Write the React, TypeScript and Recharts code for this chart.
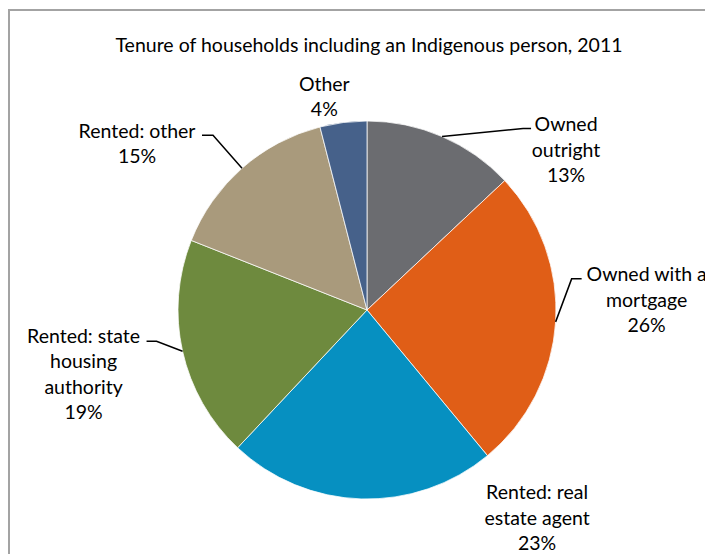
import { PieChart, Pie, Cell } from "recharts";

const categories = [
    "Owned outright",
    "Owned with a mortgage",
    "Rented: real estate agent",
    "Rented: state housing authority",
    "Rented: other",
    "Other",
];
const shares = [13, 26, 23, 19, 15, 4];
const colors = ["#6b6c70", "#e05e17", "#0690c1", "#6e8a3e", "#a99a7c", "#46618a"];

// how each category name wraps in its label
const wrapped = [
    ["Owned", "outright"],
    ["Owned with a", "mortgage"],
    ["Rented: real", "estate agent"],
    ["Rented: state", "housing", "authority"],
    ["Rented: other"],
    ["Other"],
];

// label placement relative to the slice edge point: leader elbow, leader end, text centre
const labelPos = [
    { line: [[81, -8], [89, -8]], tx: 124, ty: -13 },
    { line: [[16, -43], [26, -43]], tx: 91, ty: -48 },
    { line: null, tx: 176, ty: -7 },
    { line: [[-26, -10], [-36, -10]], tx: -99, ty: -16 },
    { line: [[-29, -33], [-40, -33]], tx: -105, ty: -38 },
    { line: null, tx: -19, ty: -39 },
];

const data = categories.map((name, i) => ({ name, value: shares[i] }));

const FONT = "Lato, 'Open Sans', sans-serif";
const FONT_SIZE = 19.5;
const RAD = Math.PI / 180;
const LINE_H = 25.5;

function renderLabel(props: any) {
    const { cx, cy, midAngle, outerRadius, index, percent } = props;
    const ex = cx + outerRadius * Math.cos(-midAngle * RAD);
    const ey = cy + outerRadius * Math.sin(-midAngle * RAD);
    const pos = labelPos[index];
    const lines = [...wrapped[index], Math.round(percent * 100) + "%"];
    return (
        <g key={"lbl" + index}>
            {pos.line && (
                <polyline
                    points={`${ex},${ey} ${ex + pos.line[0][0]},${ey + pos.line[0][1]} ${ex + pos.line[1][0]},${ey + pos.line[1][1]}`}
                    fill="none"
                    stroke="#000"
                    strokeWidth={1.5}
                />
            )}
            {lines.map((t, j) => (
                <text
                    key={j}
                    x={ex + pos.tx}
                    y={ey + pos.ty + j * LINE_H}
                    textAnchor="middle"
                    dominantBaseline="central"
                    fontFamily={FONT}
                    fontSize={FONT_SIZE}
                    fill="#000"
                >
                    {t}
                </text>
            ))}
        </g>
    );
}

export default function App() {
    return (
        <div style={{ position: "relative", width: 705, height: 546, background: "#fff" }}>
            <div
                style={{
                    position: "absolute",
                    left: 0,
                    top: 1,
                    right: 0,
                    bottom: 0,
                    borderTop: "2px solid #a3a3a3",
                    borderLeft: "2px solid #a3a3a3",
                }}
            />
            <div
                style={{
                    position: "absolute",
                    top: 25,
                    left: 0,
                    width: 722,
                    textAlign: "center",
                    fontFamily: FONT,
                    fontSize: FONT_SIZE,
                    color: "#000",
                }}
            >
                Tenure of households including an Indigenous person, 2011
            </div>
            <div style={{ position: "absolute", left: 0, top: 0 }}>
                <PieChart width={705} height={546} margin={{ top: 0, right: 0, bottom: 0, left: 0 }}>
                    <Pie
                        data={data}
                        dataKey="value"
                        nameKey="name"
                        cx={359}
                        cy={302}
                        outerRadius={189}
                        startAngle={90}
                        endAngle={-270}
                        stroke="#ffffff"
                        strokeWidth={0.75}
                        label={renderLabel}
                        labelLine={false}
                        isAnimationActive={false}
                    >
                        {data.map((d, i) => (
                            <Cell key={d.name} fill={colors[i]} />
                        ))}
                    </Pie>
                </PieChart>
            </div>
        </div>
    );
}
